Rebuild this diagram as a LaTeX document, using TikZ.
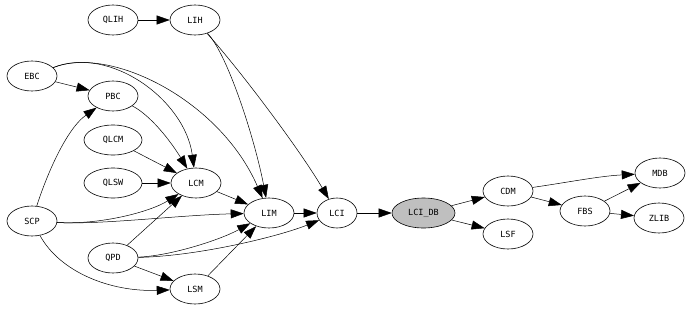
\documentclass[tikz,border=0pt]{standalone}
\usepackage{fontspec}
\setmonofont{DejaVu Sans Mono}
\usetikzlibrary{arrows.meta,shapes.geometric}
\begin{document}
\begin{tikzpicture}[x=1pt,y=-1pt,
  nd/.style={draw,ellipse,line width=0.6pt,minimum width=50pt,minimum height=30pt,inner sep=0pt,font=\fontsize{8.5}{9}\ttfamily},
  wide/.style={minimum width=58pt},
  edge/.style={line width=0.5pt,-{Triangle[length=13pt,width=9pt]}}]
\useasboundingbox (0,0) rectangle (693,308);
\node[nd] (QLIH) at (113,20) {QLIH};
\node[nd] (LIH) at (195,20) {LIH};
\node[nd] (EBC) at (32,76) {EBC};
\node[nd] (PBC) at (113,96) {PBC};
\node[nd,wide] (QLCM) at (113,140) {QLCM};
\node[nd,wide] (QLSW) at (113,183) {QLSW};
\node[nd] (LCM) at (196,183) {LCM};
\node[nd] (SCP) at (32,221) {SCP};
\node[nd] (LIM) at (269,213) {LIM};
\node[nd,minimum width=40pt] (LCI) at (337,213) {LCI};
\node[nd] (QPD) at (113,258) {QPD};
\node[nd] (LSM) at (195,289) {LSM};
\node[nd,fill=lightgray,minimum width=63pt] (LCIDB) at (423.5,213) {LCI\_DB};
\node[nd] (CDM) at (508,191) {CDM};
\node[nd] (LSF) at (508,234) {LSF};
\node[nd] (FBS) at (585,211) {FBS};
\node[nd] (MDB) at (660,173) {MDB};
\node[nd] (ZLIB) at (659,218) {ZLIB};

\draw[edge] (QLIH) -- (LIH);
\draw[edge] (LIH) .. controls (228,55) and (255,140) .. (LIM);
\draw[edge] (LIH) .. controls (240,70) and (300,150) .. (LCI);
\draw[edge] (EBC) .. controls (110,45) and (185,100) .. (LCM);
\draw[edge] (EBC) .. controls (110,45) and (220,100) .. (LIM);
\draw[edge] (EBC) -- (PBC);
\draw[edge] (PBC) .. controls (150,115) and (170,140) .. (LCM);
\draw[edge] (QLCM) -- (LCM);
\draw[edge] (QLSW) -- (LCM);
\draw[edge] (LCM) -- (LIM);
\draw[edge] (SCP) .. controls (45,180) and (65,130) .. (PBC);
\draw[edge] (SCP) .. controls (100,225) and (150,212) .. (LCM);
\draw[edge] (SCP) .. controls (100,225) and (180,215) .. (LIM);
\draw[edge] (SCP) .. controls (60,272) and (110,292) .. (LSM);
\draw[edge] (QPD) -- (LCM);
\draw[edge] (QPD) .. controls (170,256) and (220,240) .. (LIM);
\draw[edge] (QPD) .. controls (200,256) and (280,236) .. (LCI);
\draw[edge] (QPD) -- (LSM);
\draw[edge] (LSM) -- (LIM);
\draw[edge] (LIM) -- (LCI);
\draw[edge] (LCI) -- (LCIDB);
\draw[edge] (LCIDB) -- (CDM);
\draw[edge] (LCIDB) -- (LSF);
\draw[edge] (CDM) .. controls (570,182) and (600,176) .. (MDB);
\draw[edge] (CDM) -- (FBS);
\draw[edge] (FBS) -- (MDB);
\draw[edge] (FBS) -- (ZLIB);
\end{tikzpicture}
\end{document}
